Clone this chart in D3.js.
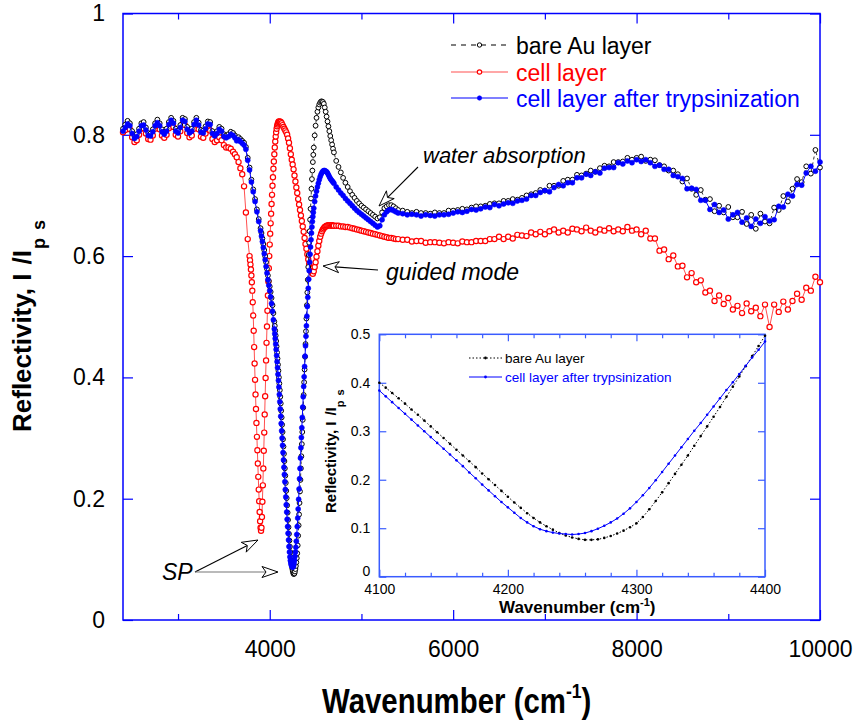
<!DOCTYPE html>
<html>
<head>
<meta charset="utf-8">
<script src="https://cdn.jsdelivr.net/npm/d3@7"></script>
<style>
  html, body { margin: 0; padding: 0; background: #fff; }
  svg { display: block; font-family: "Liberation Sans", Arial, Helvetica, sans-serif; }
</style>
</head>
<body>
<svg id="chart" width="853" height="723"></svg>
<script>
// ---------------------------------------------------------------------------
// Sampling of the spectra: [first, last, step] in cm-1 for each stretch
// ---------------------------------------------------------------------------
const gridAuSegments   = [[2400,3600,25],[3620,3900,20],[3910,4050,10],[4055,4480,5],[4490,4700,10],[4725,5400,25],[5450,10000,50]];
const gridCellSegments = [[2400,3600,25],[3620,3780,20],[3785,4100,5],[4110,4700,10],[4725,5400,25],[5450,10000,50]];

// Reflectivity Ip/Is of the bare gold layer (on gridAuSegments)
const bareAu = [
  .810,.817,.823,.819,.806,.798,.801,.810,.819,.821,.812,.803,.802,.809,.819,.825,.819,.809,.805,.810,
  .821,.828,.823,.810,.807,.816,.828,.826,.813,.807,.810,.821,.828,.820,.808,.807,.814,.822,.821,.806,
  .802,.806,.813,.810,.801,.799,.801,.805,.803,
  .799,.794,.796,.793,.790,.787,.780,.762,.746,.726,.710,.694,.677,.661,.646,
  .638,.629,.620,.610,.600,.590,.579,.568,.559,.550,.541,.531,.519,.506,.492,
  .485,.477,.469,.460,.451,.441,.431,.421,.411,
  .400,.390,.379,.368,.357,.345,.334,.322,.310,.298,
  .286,.274,.262,.250,.238,.226,.213,.201,.189,.177,
  .165,.153,.142,.131,.121,.112,.104,.097,.090,.085,
  .081,.078,.076,.076,.077,.080,.084,.089,.095,.102,
  .110,.123,.139,.156,.174,.193,.212,.231,.250,.270,
  .290,.310,.330,.350,.371,.392,.413,.434,.455,.476,
  .497,
  .519,.540,.561,.582,.602,.622,.641,.660,.678,.695,.711,.727,.741,.755,.767,.779,
  .799,.815,.828,.838,.845,.850,.853,.855,.855,.854,.851,.845,.838,.830,.822,.814,.806,.798,.791,.784,.777,.771,
  .757,.747,.738,.729,.721,.714,.707,.701,.696,.691,.687,.683,.680,.677,.674,.671,.668,.665,.662,.664,
  .672,.679,.682,.684,.684,.682,.679,.676,
  .675,.673,.671,.673,.671,.671,.670,.672,.671,.671,.675,.675,.676,.678,.677,.680,.682,.682,.683,.686,
  .687,.687,.691,.691,.694,.693,.696,.700,.702,.704,.709,
  .708,.716,.716,.716,.724,.726,.726,.734,.733,.736,.741,.739,.745,.749,.748,.755,.755,.756,.762,.759,
  .762,.764,.757,.759,.758,.750,.748,.741,.741,.735,
  .723,.728,.711,.701,.709,.693,.694,.674,.683,.672,.681,.664,.664,.673,.653,.668,.645,.670,.657,.654,
  .680,.676,.699,.690,.711,.727,.722,.748,.736,.775,.746
];

// Reflectivity of the cell layer after trypsinization (on gridAuSegments)
const trypsinized = [
  .806,.812,.818,.815,.802,.794,.797,.806,.815,.816,.808,.799,.798,.805,.815,.820,.815,.805,.801,.806,
  .817,.824,.819,.806,.803,.812,.824,.822,.809,.803,.806,.817,.824,.816,.804,.803,.810,.818,.817,.802,
  .798,.802,.809,.806,.797,.795,.797,.801,.799,
  .795,.790,.792,.789,.786,.783,.776,.758,.742,.722,.706,.690,.673,.657,.642,
  .633,.624,.614,.604,.594,.583,.572,.561,.552,.543,.533,.522,.509,.495,.480,
  .472,.464,.455,.446,.436,.426,.416,.405,.395,
  .384,.372,.360,.348,.336,.324,.312,.300,.288,.276,
  .264,.252,.240,.228,.215,.203,.190,.178,.166,.154,
  .143,.132,.121,.112,.104,.098,.094,.091,.089,.088,
  .087,.088,.090,.094,.099,.105,.112,.120,.130,.141,
  .154,.168,.183,.199,.216,.233,.250,.267,.284,.301,
  .317,.334,.351,.368,.385,.401,.418,.435,.452,.468,
  .485,
  .501,.517,.532,.547,.562,.576,.590,.603,.615,.627,.638,.648,.657,.665,.672,.679,
  .690,.699,.707,.714,.720,.726,.731,.735,.738,.740,.741,.741,.740,.739,.737,.734,.731,.728,.726,.724,.722,.720,
  .714,.709,.704,.700,.695,.691,.687,.683,.679,.675,.672,.669,.666,.663,.660,.657,.654,.651,.648,.650,
  .660,.668,.673,.676,.677,.675,.673,.671,
  .670,.668,.669,.668,.666,.668,.667,.666,.668,.668,.669,.671,.673,.672,.674,.677,.676,.678,.681,.680,
  .685,.683,.686,.688,.687,.691,.692,.694,.700,.700,.705,
  .708,.706,.713,.718,.716,.721,.721,.729,.729,.735,.733,.739,.737,.745,.746,.746,.754,.752,.757,.754,
  .759,.756,.759,.754,.748,.750,.743,.743,.733,.731,
  .728,.711,.712,.710,.692,.692,.677,.685,.672,.676,.661,.668,.672,.656,.663,.649,.661,.654,.665,.658,
  .660,.682,.681,.702,.699,.718,.717,.737,.748,.740,.755
];

// Reflectivity of the cell layer (on gridCellSegments)
const cellLayer = [
  .804,.808,.813,.809,.796,.788,.791,.800,.810,.811,.802,.793,.792,.799,.810,.815,.809,.799,.795,.800,
  .811,.818,.813,.800,.797,.806,.818,.816,.803,.796,.799,.810,.817,.809,.797,.795,.802,.809,.807,.793,
  .788,.791,.796,.791,.783,.779,.779,.777,.772,
  .768,.763,.755,.745,.735,.715,.672,.628,.600,
  .593,.586,.578,.568,.557,.543,.524,.502,.477,.450,
  .423,.396,.372,.348,.325,.302,.280,.258,.236,.215,
  .196,.178,.163,.152,.147,.152,.170,.195,.222,.250,
  .279,.309,.339,.369,.399,.428,.457,.484,.510,.535,
  .558,.580,.600,.619,.637,.654,.670,.686,.701,.716,
  .730,.744,.756,.768,.779,.789,.797,.804,.810,.814,
  .817,.819,.821,.822,
  .822,.821,.819,.816,.813,.810,.807,.804,.800,.794,.787,.778,.768,.759,.751,.743,.733,.723,.713,.704,
  .694,.685,.676,.667,.658,.649,.640,.630,.620,.612,.603,.595,.587,.580,.575,.572,.571,.575,.582,.590,
  .599,.608,.617,.625,.632,.637,.641,.644,.646,.648,.649,.650,.650,.651,.651,.651,.650,.651,.650,.650,
  .650,.650,.649,.649,.648,.648,.647,.646,.645,.644,.643,.642,.641,.640,.639,.638,.637,.636,.635,.634,
  .633,.632,.631,.630,.630,.629,.628,.628,
  .627,.627,.624,.625,.625,.622,.623,.623,.622,.621,.623,.622,.621,.624,.623,.623,.625,.625,.625,.628,
  .628,
  .632,.628,.632,.629,.635,.634,.633,.639,.636,.640,.636,.641,.644,.639,.642,.639,.645,.644,.641,.647,
  .642,.639,.644,.642,.646,.641,.644,.641,.648,.642,.644,
  .636,.642,.629,.629,.609,.611,.595,.601,.583,.584,.565,.572,.557,.560,.540,.543,.526,.535,.521,.531,
  .512,.518,.506,.522,.509,.515,.501,.520,.483,.520,.508,.525,.512,.526,.538,.528,.548,.543,.566,.557
];

// Axis ticks
const mainXMajor = [4000, 6000, 8000, 10000];
const mainXMinor = [3000, 5000, 7000, 9000];
const mainYTicks = [0, 0.2, 0.4, 0.6, 0.8, 1];
const insetXMajor = [4100, 4200, 4300, 4400];
const insetXMinor = [4120, 4140, 4160, 4180, 4220, 4240, 4260, 4280, 4320, 4340, 4360, 4380];
const insetYTicks = [0, 0.1, 0.2, 0.3, 0.4, 0.5];

// Series labels
const seriesNames = ["bare Au layer", "cell layer", "cell layer after trypsinization"];

// ---------------------------------------------------------------------------
const expand = segs => segs.flatMap(([a, b, s]) => d3.range(a, b + s / 2, s));
const gridAu = expand(gridAuSegments);
const gridCell = expand(gridCellSegments);
const pair = (xs, ys) => xs.map((w, i) => [w, ys[i]]);

const auData = pair(gridAu, bareAu);
const tryData = pair(gridAu, trypsinized);
const cellData = pair(gridCell, cellLayer);

const BLUE = "#0000ff", RED = "#ff0000", BLACK = "#000000";
const svg = d3.select("#chart");

// ---------------------------------------------------------------------------
// Main panel
// ---------------------------------------------------------------------------
const M = { left: 123, right: 820, top: 13.5, bottom: 620 };
const x = d3.scaleLinear().domain([2400, 10000]).range([M.left, M.right]);
const y = d3.scaleLinear().domain([0, 1]).range([M.bottom, M.top]);

function styleAxis(g, color, fontSize) {
  g.select(".domain").remove();
  g.selectAll(".tick line").attr("stroke", color).attr("stroke-width", 1.2);
  g.selectAll(".tick text").attr("fill", "#000").attr("font-size", fontSize)
    .attr("font-family", "Liberation Sans, Arial, sans-serif");
}

const fmtY = d => (d === 0 ? "0" : d === 1 ? "1" : d3.format(".1f")(d));

svg.append("g").attr("transform", `translate(0,${M.bottom})`)
  .call(d3.axisBottom(x).tickValues(mainXMajor).tickSize(-10).tickPadding(21).tickFormat(d3.format("d")))
  .call(g => styleAxis(g, BLUE, 23));
svg.append("g").attr("transform", `translate(0,${M.bottom})`)
  .call(d3.axisBottom(x).tickValues(mainXMinor).tickSize(-6).tickFormat(""))
  .call(g => styleAxis(g, BLUE, 23));
svg.append("g").attr("transform", `translate(0,${M.top})`)
  .call(d3.axisTop(x).tickValues(mainXMajor).tickSize(-10).tickFormat(""))
  .call(g => styleAxis(g, BLUE, 23));
svg.append("g").attr("transform", `translate(0,${M.top})`)
  .call(d3.axisTop(x).tickValues(mainXMinor).tickSize(-6).tickFormat(""))
  .call(g => styleAxis(g, BLUE, 23));
svg.append("g").attr("transform", `translate(${M.left},0)`)
  .call(d3.axisLeft(y).tickValues(mainYTicks).tickSize(-10).tickPadding(18).tickFormat(fmtY))
  .call(g => styleAxis(g, BLUE, 23));
svg.append("g").attr("transform", `translate(${M.right},0)`)
  .call(d3.axisRight(y).tickValues(mainYTicks).tickSize(-10).tickFormat(""))
  .call(g => styleAxis(g, BLUE, 23));

svg.append("rect")
  .attr("x", M.left).attr("y", M.top)
  .attr("width", M.right - M.left).attr("height", M.bottom - M.top)
  .attr("fill", "none").attr("stroke", BLUE).attr("stroke-width", 1.5);

// curves
const line = d3.line().x(d => x(d[0])).y(d => y(d[1]));
const curves = svg.append("g");

function drawSeries(g, data, lineFn, sx, sy, opt) {
  g.append("path").datum(data).attr("d", lineFn).attr("fill", "none")
    .attr("stroke", opt.lineColor).attr("stroke-width", opt.lineWidth)
    .attr("stroke-dasharray", opt.dash || null);
  g.append("g").selectAll("circle").data(data).join("circle")
    .attr("cx", d => sx(d[0])).attr("cy", d => sy(d[1])).attr("r", opt.r)
    .attr("fill", opt.fill).attr("stroke", opt.stroke).attr("stroke-width", opt.sw);
}

const styleAu = { lineColor: BLACK, lineWidth: 0.8, dash: "3,3", r: 2.4, fill: "#fff", stroke: BLACK, sw: 1 };
const styleCell = { lineColor: "#ff5050", lineWidth: 1, r: 2.6, fill: "#fff", stroke: RED, sw: 1.2 };
const styleTry = { lineColor: BLUE, lineWidth: 1, r: 2.5, fill: BLUE, stroke: BLUE, sw: 0.6 };

drawSeries(curves, cellData, line, x, y, styleCell);
drawSeries(curves, auData, line, x, y, styleAu);
drawSeries(curves, tryData, line, x, y, styleTry);

// axis titles
const xTitle = svg.append("text")
  .attr("transform", "translate(322,713) scale(0.84,1)")
  .attr("font-size", 35).attr("font-weight", "bold").attr("fill", "#000");
xTitle.append("tspan").text("Wavenumber (cm");
xTitle.append("tspan").attr("font-size", 21).attr("dy", -15).text("-1");
xTitle.append("tspan").attr("dy", 15).text(")");

const yTitle = svg.append("text").attr("transform", "translate(31,432) rotate(-90)")
  .attr("font-size", 26).attr("font-weight", "bold").attr("fill", "#000");
yTitle.append("tspan").text("Reflectivity, I");
yTitle.append("tspan").attr("dx", 9).text("/I");
yTitle.append("tspan").attr("font-size", 18).attr("dy", 14).attr("dx", 1).text("p");
yTitle.append("tspan").attr("font-size", 18).attr("dx", 8).text("s");

// legend
const legendRows = [
  { name: seriesNames[0], color: BLACK, style: styleAu, y: 45 },
  { name: seriesNames[1], color: RED, style: styleCell, y: 72 },
  { name: seriesNames[2], color: BLUE, style: styleTry, y: 98 }
];
const lg = svg.append("g");
legendRows.forEach(r => {
  lg.append("line").attr("x1", 451).attr("x2", 508).attr("y1", r.y).attr("y2", r.y)
    .attr("stroke", r.style.lineColor).attr("stroke-width", 1.2)
    .attr("stroke-dasharray", r.style.dash ? "5,5" : null);
  lg.append("circle").attr("cx", 479.5).attr("cy", r.y).attr("r", 2.2)
    .attr("fill", r.style.fill).attr("stroke", r.style.stroke).attr("stroke-width", r.style.sw);
  lg.append("text").attr("x", 516).attr("y", r.y + 9).attr("font-size", 23)
    .attr("fill", r.color).text(r.name);
});

// annotations
function openArrow(g, x1, y1, x2, y2, color) {
  const len = 16, half = 5.5, notch = 4;
  const a = Math.atan2(y2 - y1, x2 - x1);
  const ux = Math.cos(a), uy = Math.sin(a);
  const bx = x2 - ux * len, by = y2 - uy * len;
  g.append("line").attr("x1", x1).attr("y1", y1)
    .attr("x2", x2 - ux * (len - notch)).attr("y2", y2 - uy * (len - notch))
    .attr("stroke", color).attr("stroke-width", 1.1);
  const pts = [
    [x2, y2],
    [bx - uy * half, by + ux * half],
    [x2 - ux * (len - notch), y2 - uy * (len - notch)],
    [bx + uy * half, by - ux * half]
  ];
  g.append("polygon").attr("points", pts.map(p => p.join(",")).join(" "))
    .attr("fill", "#fff").attr("stroke", "#000").attr("stroke-width", 1);
}
const ann = svg.append("g");
ann.append("text").attr("x", 423).attr("y", 163).attr("font-size", 22)
  .attr("font-style", "italic").text("water absorption");
ann.append("text").attr("x", 386).attr("y", 280).attr("font-size", 23)
  .attr("font-style", "italic").text("guided mode");
ann.append("text").attr("x", 162).attr("y", 580).attr("font-size", 23)
  .attr("font-style", "italic").text("SP");
openArrow(ann, 418, 167, 379, 206, "#000");
openArrow(ann, 378, 270, 323, 266, "#000");
openArrow(ann, 195, 572, 258, 540, "#000");
openArrow(ann, 195, 572, 278, 572, "#777");

// ---------------------------------------------------------------------------
// Inset: zoom on the surface plasmon minimum
// ---------------------------------------------------------------------------
const I = { left: 379.3, right: 765, top: 334.3, bottom: 576.7 };
const ix = d3.scaleLinear().domain([4100, 4400]).range([I.left, I.right]);
const iy = d3.scaleLinear().domain([0, 0.5]).range([I.bottom, I.top]);
const IBLUE = "#3a5cff";
const inset = svg.append("g");

inset.append("rect").attr("x", I.left).attr("y", I.top)
  .attr("width", I.right - I.left).attr("height", I.bottom - I.top).attr("fill", "#fff");

inset.append("g").attr("transform", `translate(0,${I.bottom})`)
  .call(d3.axisBottom(ix).tickValues(insetXMajor).tickSize(-7).tickPadding(7).tickFormat(d3.format("d")))
  .call(g => styleAxis(g, IBLUE, 14));
inset.append("g").attr("transform", `translate(0,${I.bottom})`)
  .call(d3.axisBottom(ix).tickValues(insetXMinor).tickSize(-4).tickFormat(""))
  .call(g => styleAxis(g, IBLUE, 14));
inset.append("g").attr("transform", `translate(0,${I.top})`)
  .call(d3.axisTop(ix).tickValues(insetXMajor).tickSize(-7).tickFormat(""))
  .call(g => styleAxis(g, IBLUE, 14));
inset.append("g").attr("transform", `translate(0,${I.top})`)
  .call(d3.axisTop(ix).tickValues(insetXMinor).tickSize(-4).tickFormat(""))
  .call(g => styleAxis(g, IBLUE, 14));
inset.append("g").attr("transform", `translate(${I.left},0)`)
  .call(d3.axisLeft(iy).tickValues(insetYTicks).tickSize(-7).tickPadding(9)
    .tickFormat(d => (d === 0 ? "0" : d3.format(".1f")(d))))
  .call(g => styleAxis(g, IBLUE, 14))
  .call(g => g.selectAll(".tick").filter(d => d === 0).select("text").attr("dy", "-0.1em"));
inset.append("g").attr("transform", `translate(${I.right},0)`)
  .call(d3.axisRight(iy).tickValues(insetYTicks).tickSize(-7).tickFormat(""))
  .call(g => styleAxis(g, IBLUE, 14));

inset.append("rect").attr("x", I.left).attr("y", I.top)
  .attr("width", I.right - I.left).attr("height", I.bottom - I.top)
  .attr("fill", "none").attr("stroke", IBLUE).attr("stroke-width", 1.5);

const inRange = d => d[0] >= 4100 && d[0] <= 4400;
const iline = d3.line().x(d => ix(d[0])).y(d => iy(d[1]));
const insetAu = { lineColor: BLACK, lineWidth: 1, dash: "1.5,2", r: 1.3, fill: BLACK, stroke: "none", sw: 0 };
const insetTry = { lineColor: BLUE, lineWidth: 1, r: 1.3, fill: BLUE, stroke: "none", sw: 0 };
drawSeries(inset, auData.filter(inRange), iline, ix, iy, insetAu);
drawSeries(inset, tryData.filter(inRange), iline, ix, iy, insetTry);

// inset legend
[[seriesNames[0], BLACK, insetAu, 358], [seriesNames[2], BLUE, insetTry, 377]].forEach(([name, c, st, ly]) => {
  inset.append("line").attr("x1", 469).attr("x2", 502).attr("y1", ly).attr("y2", ly)
    .attr("stroke", st.lineColor).attr("stroke-width", 1).attr("stroke-dasharray", st.dash || null);
  inset.append("circle").attr("cx", 485.5).attr("cy", ly).attr("r", 1.4).attr("fill", c);
  inset.append("text").attr("x", 505).attr("y", ly + 5).attr("font-size", 13.5).attr("fill", c).text(name);
});

// inset axis titles
const ixTitle = inset.append("text").attr("x", 499).attr("y", 613)
  .attr("font-size", 17).attr("font-weight", "bold").attr("fill", "#000");
ixTitle.append("tspan").text("Wavenumber (cm");
ixTitle.append("tspan").attr("font-size", 11).attr("dy", -7).text("-1");
ixTitle.append("tspan").attr("dy", 7).text(")");

const iyTitle = inset.append("text").attr("transform", "translate(336,513) rotate(-90)")
  .attr("font-size", 15).attr("font-weight", "bold").attr("fill", "#000");
iyTitle.append("tspan").text("Reflectivity, I");
iyTitle.append("tspan").attr("dx", 6).text("/I");
iyTitle.append("tspan").attr("font-size", 11).attr("dy", 8).text("p");
iyTitle.append("tspan").attr("font-size", 11).attr("dx", 5).text("s");
</script>
</body>
</html>
